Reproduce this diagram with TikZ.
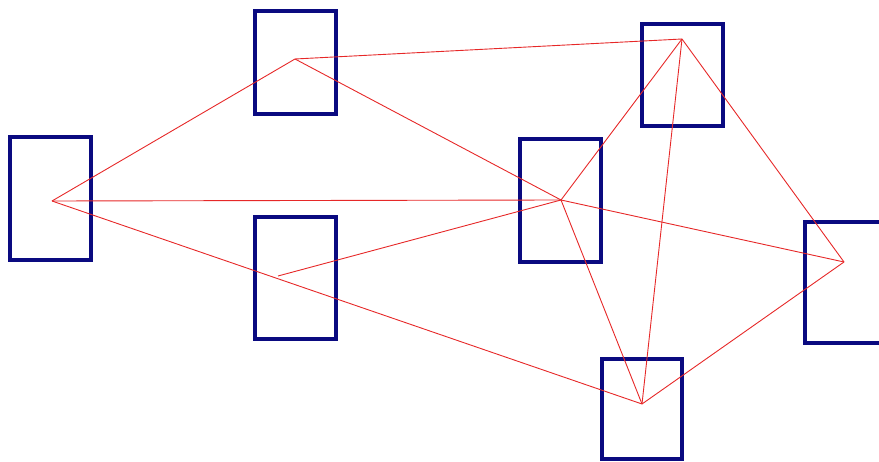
\documentclass[tikz,border=0pt]{standalone}
\begin{document}
\begin{tikzpicture}[x=1pt,y=-1pt,
  box/.style={draw=navyblue,line width=3.6pt,inner sep=0pt,outer sep=0pt},
  link/.style={draw=linkred,line width=0.9pt}]
\definecolor{navyblue}{RGB}{10,10,128}
\definecolor{linkred}{RGB}{230,40,40}
\useasboundingbox (0,0) rectangle (879,462);
\clip (0,0) rectangle (879,462);
% boxes
\node[box,minimum width=81pt,minimum height=123pt] (ra) at (50.75,198.5) {};
\node[box,minimum width=81pt,minimum height=103pt] (rb) at (295.5,62.5) {};
\node[box,minimum width=81pt,minimum height=122pt] (rc) at (295.5,278) {};
\node[box,minimum width=81pt,minimum height=123pt] (rd) at (560.5,200.5) {};
\node[box,minimum width=81pt,minimum height=102pt] (re) at (682.5,75) {};
\node[box,minimum width=81pt,minimum height=121pt] (rf) at (845.5,282.5) {};
\node[box,minimum width=80pt,minimum height=100pt] (rg) at (642,409) {};
% points
\coordinate (a) at (52,201);
\coordinate (b) at (295,59);
\coordinate (c) at (278,276);
\coordinate (d) at (561,200);
\coordinate (e) at (682,39);
\coordinate (f) at (844,262);
\coordinate (g) at (642,404);
% links
\draw[link] (a) -- (b);
\draw[link] (a) -- (d);
\draw[link] (a) -- (g);
\draw[link] (b) -- (e);
\draw[link] (b) -- (d);
\draw[link] (c) -- (d);
\draw[link] (d) -- (e);
\draw[link] (d) -- (f);
\draw[link] (d) -- (g);
\draw[link] (e) -- (g);
\draw[link] (e) -- (f);
\draw[link] (f) -- (g);
\end{tikzpicture}
\end{document}
